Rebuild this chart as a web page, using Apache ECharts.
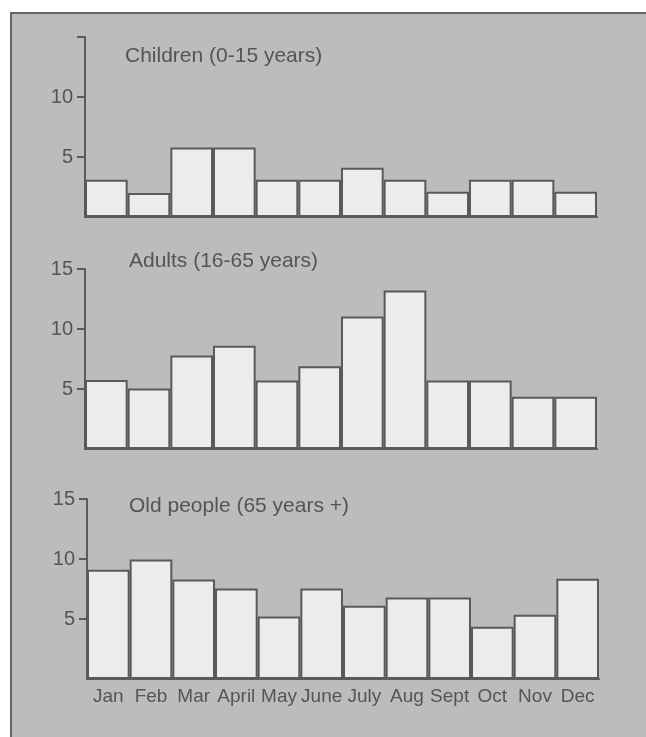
<!DOCTYPE html>
<html>
<head>
<meta charset="utf-8">
<script src="https://cdn.jsdelivr.net/npm/echarts@6/dist/echarts.min.js"></script>
<style>html,body{margin:0;padding:0;background:#fff}#c{width:646px;height:737px}</style>
</head>
<body>
<div id="c"></div>
<script>
const months = ['Jan','Feb','Mar','April','May','June','July','Aug','Sept','Oct','Nov','Dec'];
const panelTitles = ['Children (0-15 years)', 'Adults (16-65 years)', 'Old people (65 years +)'];
const children = [3.1, 2.0, 5.8, 5.8, 3.1, 3.1, 4.1, 3.1, 2.1, 3.1, 3.1, 2.1];
const adults = [5.75, 5.05, 7.8, 8.6, 5.7, 6.9, 11.05, 13.2, 5.7, 5.7, 4.35, 4.35];
const oldPeople = [9.1, 9.95, 8.3, 7.55, 5.2, 7.55, 6.1, 6.8, 6.8, 4.35, 5.35, 8.35];
const yTicks = [5, 10, 15];
const yLabelsTop = [5, 10];
const yLabels = [5, 10, 15];

const ink = '#5a5a5a';
const txt = '#555';
const font = 'Liberation Sans, Arial, Helvetica, sans-serif';

const grids = [
  {left: 85, right: 49, top: 37, height: 180},
  {left: 85, right: 49, top: 269, height: 180},
  {left: 87, right: 47, top: 499, height: 180}
];
const seriesData = [children, adults, oldPeople];
const titleTops = [46, 251, 496];
const titleLefts = [125, 129, 129];

const chart = echarts.init(document.getElementById('c'), null, {renderer: 'canvas'});
chart.setOption({
  backgroundColor: '#fff',
  animation: false,
  graphic: [{
    type: 'rect', z: -10, silent: true,
    shape: {x: 11, y: 13, width: 700, height: 800},
    style: {fill: '#bcbcbc', stroke: '#666', lineWidth: 2}
  }],
  title: panelTitles.map((t, i) => ({
    text: t, left: titleLefts[i], top: titleTops[i], padding: 0,
    textStyle: {fontFamily: font, fontSize: 21, fontWeight: 'normal', color: txt}
  })),
  grid: grids,
  xAxis: grids.map((g, i) => ({
    type: 'category', gridIndex: i, data: months, boundaryGap: true,
    axisLine: {show: true, lineStyle: {color: ink, width: 2}},
    axisTick: {show: false},
    axisLabel: {show: i === 2, color: txt, fontFamily: font, fontSize: 19, margin: 8, interval: 0}
  })),
  yAxis: grids.map((g, i) => ({
    type: 'value', gridIndex: i, min: 0, max: 15, interval: 5,
    splitLine: {show: false},
    axisLine: {show: true, lineStyle: {color: ink, width: 2}},
    axisTick: {show: true, length: 8, inside: false, customValues: yTicks, lineStyle: {color: ink, width: 2}},
    axisLabel: {show: true, color: txt, fontFamily: font, fontSize: 20, margin: 12,
      customValues: i === 0 ? yLabelsTop : yLabels}
  })),
  series: seriesData.map((d, i) => ({
    type: 'bar', xAxisIndex: i, yAxisIndex: i, data: d,
    barCategoryGap: '0%',
    itemStyle: {color: '#ececec', borderColor: ink, borderWidth: 2}
  }))
});
</script>
</body>
</html>
